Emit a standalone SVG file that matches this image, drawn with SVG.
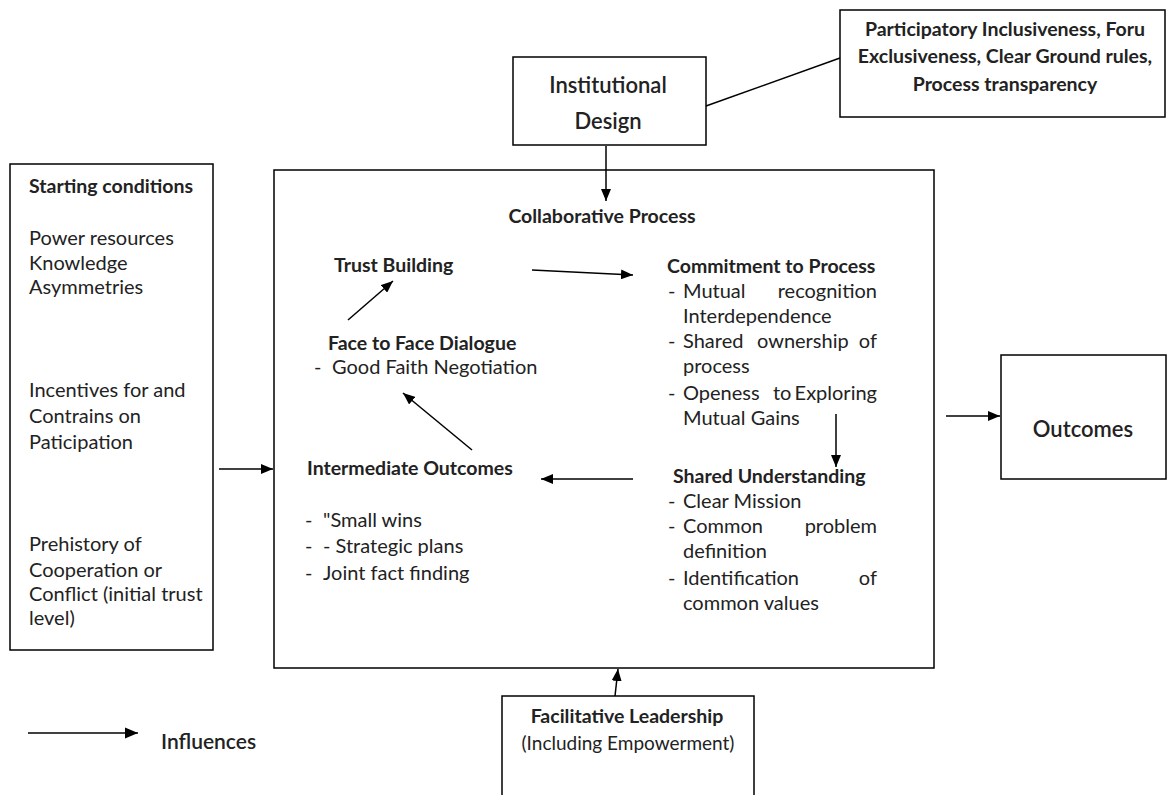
<svg xmlns="http://www.w3.org/2000/svg" width="1167" height="795" viewBox="0 0 1167 795">
<defs>
<marker id="ah" viewBox="0 0 12 10" refX="12" refY="5" markerWidth="12" markerHeight="10" markerUnits="userSpaceOnUse" orient="auto"><path d="M0,0 L12,5 L0,10 z" fill="#000"/></marker>
<marker id="ahl" viewBox="0 0 12 10" refX="12" refY="5" markerWidth="13" markerHeight="12" markerUnits="userSpaceOnUse" orient="auto"><path d="M0,0 L12,5 L0,10 z" fill="#000"/></marker>
</defs>
<style>
.box{fill:#fff;stroke:#000;stroke-width:1.5}
.t{font-family:Lato,"Liberation Sans",sans-serif;font-size:20px;fill:#222}
.b{font-family:Lato,"Liberation Sans",sans-serif;font-size:19.5px;font-weight:bold;fill:#222}
.c{text-anchor:middle}
.e{text-anchor:end}
.ln{stroke:#000;stroke-width:1.5;fill:none}
.ar{stroke:#000;stroke-width:1.5;fill:none;marker-end:url(#ah)}
</style>
<rect width="1167" height="795" fill="#fff"/>

<g id="institutional-design">
<rect class="box" x="513" y="57" width="193" height="88"/>
<text class="t c" x="608" y="93" style="font-size:22px;font-weight:600">Institutional</text>
<text class="t c" x="608" y="129" style="font-size:22px;font-weight:600">Design</text>
</g>

<g id="design-attributes">
<rect class="box" x="840" y="10" width="325" height="107"/>
<text class="b c" x="1005" y="36">Participatory Inclusiveness, Foru</text>
<text class="b c" x="1005" y="63">Exclusiveness, Clear Ground rules,</text>
<text class="b c" x="1005" y="91">Process transparency</text>
</g>

<g id="starting-conditions">
<rect class="box" x="10" y="164" width="203" height="486"/>
<text class="b" x="29" y="193">Starting conditions</text>
<text class="t" x="29" y="245">Power resources</text>
<text class="t" x="29" y="270">Knowledge</text>
<text class="t" x="29" y="294">Asymmetries</text>
<text class="t" x="29" y="397">Incentives for and</text>
<text class="t" x="29" y="423">Contrains on</text>
<text class="t" x="29" y="449">Paticipation</text>
<text class="t" x="29" y="551">Prehistory of</text>
<text class="t" x="29" y="577">Cooperation or</text>
<text class="t" x="29" y="601">Conflict (initial trust</text>
<text class="t" x="29" y="625">level)</text>
</g>

<g id="collaborative-process">
<rect class="box" x="274" y="170" width="660" height="498"/>
<text class="b c" x="602" y="223">Collaborative Process</text>
</g>

<g id="trust-building">
<text class="b" x="334" y="272">Trust Building</text>
</g>

<g id="commitment">
<text class="b" x="667" y="273">Commitment to Process</text>
<text class="t" x="668" y="298">-</text>
<text class="t" x="683" y="298">Mutual</text>
<text class="t e" x="877" y="298">recognition</text>
<text class="t" x="683" y="323">Interdependence</text>
<text class="t" x="668" y="348">-</text>
<text class="t" x="683" y="348">Shared</text>
<text class="t" x="757" y="348">ownership</text>
<text class="t e" x="877" y="348">of</text>
<text class="t" x="683" y="373">process</text>
<text class="t" x="668" y="400">-</text>
<text class="t" x="683" y="400">Openess</text>
<text class="t" x="773" y="400">to</text>
<text class="t e" x="877" y="400">Exploring</text>
<text class="t" x="683" y="425">Mutual Gains</text>
</g>

<g id="shared-understanding">
<text class="b" x="673" y="483">Shared Understanding</text>
<text class="t" x="668" y="508">-</text>
<text class="t" x="683" y="508">Clear Mission</text>
<text class="t" x="668" y="533">-</text>
<text class="t" x="683" y="533">Common</text>
<text class="t e" x="877" y="533">problem</text>
<text class="t" x="683" y="558">definition</text>
<text class="t" x="668" y="585">-</text>
<text class="t" x="683" y="585">Identification</text>
<text class="t e" x="877" y="585">of</text>
<text class="t" x="683" y="610">common values</text>
</g>

<g id="face-to-face">
<text class="b" x="328" y="350">Face to Face Dialogue</text>
<text class="t" x="314" y="374">-</text>
<text class="t" x="332" y="374">Good Faith Negotiation</text>
</g>

<g id="intermediate-outcomes">
<text class="b" x="307" y="475">Intermediate Outcomes</text>
<text class="t" x="305" y="527">-</text>
<text class="t" x="323" y="527">"Small wins</text>
<text class="t" x="305" y="553">-</text>
<text class="t" x="323" y="553">- Strategic plans</text>
<text class="t" x="305" y="580">-</text>
<text class="t" x="323" y="580">Joint fact finding</text>
</g>

<g id="outcomes">
<rect class="box" x="1001" y="355" width="165" height="124"/>
<text class="t c" x="1083" y="437" style="font-size:22px;font-weight:600">Outcomes</text>
</g>

<g id="facilitative-leadership">
<rect class="box" x="502" y="696" width="252" height="110"/>
<text class="b c" x="627" y="723">Facilitative Leadership</text>
<text class="t c" x="628" y="750" style="font-size:19px">(Including Empowerment)</text>
</g>

<g id="legend">
<line x1="28" y1="733" x2="138" y2="733" stroke="#000" stroke-width="1.5" marker-end="url(#ahl)"/>
<text class="t" x="161" y="749" style="font-size:21px;font-weight:600">Influences</text>
</g>

<g id="connectors">
<line class="ln" x1="706" y1="106" x2="840" y2="58"/>
<line class="ar" x1="606" y1="146" x2="606" y2="201"/>
<line class="ar" x1="219" y1="469" x2="273" y2="469"/>
<line class="ar" x1="946" y1="416" x2="1000" y2="416"/>
<line class="ar" x1="615" y1="696" x2="618" y2="669"/>
<line class="ar" x1="532" y1="270" x2="633" y2="275"/>
<line class="ar" x1="348" y1="320" x2="393" y2="281"/>
<line class="ar" x1="472" y1="450" x2="403" y2="393"/>
<line class="ar" x1="633" y1="479" x2="541" y2="479"/>
<line class="ar" x1="836" y1="414" x2="836" y2="467"/>
</g>
</svg>
